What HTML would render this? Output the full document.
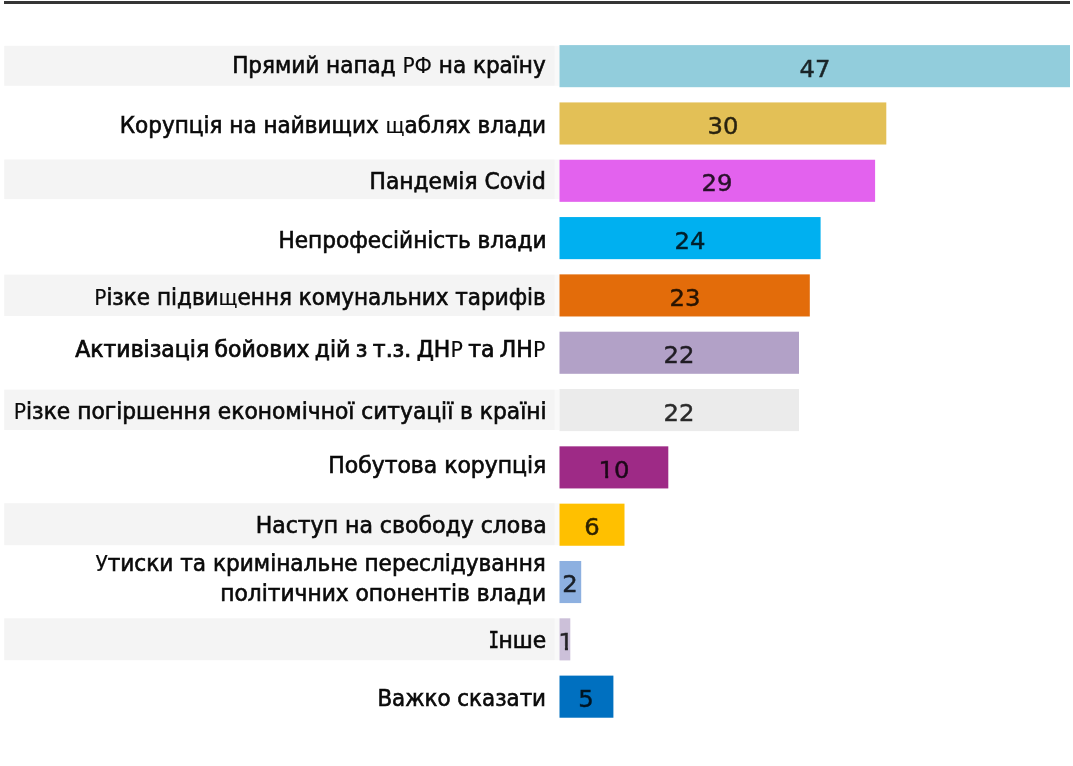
<!DOCTYPE html>
<html lang="uk"><head><meta charset="utf-8"><title>Chart</title><style>
html,body{margin:0;padding:0;background:#fff;}
body{width:1073px;height:766px;position:relative;overflow:hidden;font-family:"DejaVu Sans Condensed","DejaVu Sans","Liberation Sans",sans-serif;}
.g{position:absolute;left:0;top:0;display:block;}
.lb{position:absolute;left:0;white-space:nowrap;text-align:right;font-size:23.3px;line-height:30px;height:30px;color:#0a0a0a;-webkit-text-stroke:0.6px #0a0a0a;transform-origin:100% 50%;}
.lb.hv{-webkit-text-stroke:0.7px #0a0a0a;word-spacing:-1.5px;}
.fb{font-size:21.8px;-webkit-text-stroke:0.15px #0a0a0a;}
.ii{font-family:"DejaVu Sans Mono","Liberation Mono",monospace;display:inline-block;transform:scaleX(0.72);transform-origin:50% 50%;margin:0 -2.6px;-webkit-text-stroke:0.6px #0a0a0a;}
.one{display:inline-block;clip-path:polygon(0 0,100% 0,100% 64%,62.5% 64%,62.5% 100%,43% 100%,43% 64%,0 64%);}
.nv{position:absolute;text-align:center;font-family:"DejaVu Sans","Liberation Sans",sans-serif;font-size:22.2px;line-height:30px;height:30px;color:#000;-webkit-text-stroke:0.45px #000;opacity:0.82;white-space:nowrap;transform:scaleX(1.095);}
</style></head><body>
<svg class="g" width="1073" height="766" viewBox="0 0 1073 766">
<rect x="4" y="1" width="1066" height="3" fill="#353535"/>
<rect x="4.2" y="45.8" width="550.6" height="40.0" fill="#F4F4F4"/>
<rect x="554.8" y="45.8" width="4.7" height="40.0" fill="#F9F9F9"/>
<rect x="4.2" y="159.5" width="550.6" height="39.6" fill="#F4F4F4"/>
<rect x="554.8" y="159.5" width="4.7" height="39.6" fill="#F9F9F9"/>
<rect x="4.2" y="274.6" width="550.6" height="41.4" fill="#F4F4F4"/>
<rect x="554.8" y="274.6" width="4.7" height="41.4" fill="#F9F9F9"/>
<rect x="4.2" y="389.6" width="550.6" height="40.4" fill="#F4F4F4"/>
<rect x="554.8" y="389.6" width="4.7" height="40.4" fill="#F9F9F9"/>
<rect x="4.2" y="503.2" width="550.6" height="42.0" fill="#F4F4F4"/>
<rect x="554.8" y="503.2" width="4.7" height="42.0" fill="#F9F9F9"/>
<rect x="4.2" y="618.3" width="550.6" height="41.9" fill="#F4F4F4"/>
<rect x="554.8" y="618.3" width="4.7" height="41.9" fill="#F9F9F9"/>
<rect x="559.5" y="45.10" width="510.5" height="42.1" fill="#92CDDC"/>
<rect x="559.5" y="102.42" width="326.8" height="42.1" fill="#E3C056"/>
<rect x="559.5" y="159.74" width="315.6" height="42.1" fill="#E362EE"/>
<rect x="559.5" y="217.06" width="261.1" height="42.1" fill="#00B0F0"/>
<rect x="559.5" y="274.38" width="250.3" height="42.1" fill="#E36C0A"/>
<rect x="559.5" y="331.70" width="239.5" height="42.1" fill="#B2A1C7"/>
<rect x="559.5" y="389.02" width="239.5" height="42.1" fill="#EBEBEB"/>
<rect x="559.5" y="446.34" width="108.8" height="42.1" fill="#9E2A86"/>
<rect x="559.5" y="503.66" width="65.0" height="42.1" fill="#FFC000"/>
<rect x="559.5" y="560.98" width="21.7" height="42.1" fill="#8DB0E0"/>
<rect x="559.5" y="618.30" width="10.8" height="42.1" fill="#CCC0D9"/>
<rect x="559.5" y="675.62" width="53.9" height="42.1" fill="#0070C0"/>
</svg>
<div class="lb " id="lb0" style="top:50px;width:545.65px;transform:translateY(0.35px) scaleX(1.0279)">Прямий напад <span class="fb">РФ</span> на країну</div>
<div class="lb " id="lb1" style="top:109px;width:546.15px;transform:translateY(0.65px) scaleX(1.0293)">Корупція на найвищих <span class="fb">щ</span>аблях влади</div>
<div class="lb " id="lb2" style="top:165px;width:545.75px;transform:translateY(0.65px) scaleX(1.0392)">Пандемія Covid</div>
<div class="lb " id="lb3" style="top:225px;width:546.55px;transform:translateY(0.25px) scaleX(1.0342)">Непрофесійність влади</div>
<div class="lb " id="lb4" style="top:281px;width:545.80px;transform:translateY(0.70px) scaleX(1.0274)"><span class="fb">Р</span>ізке підви<span class="fb">щ</span>ення комунальних тарифів</div>
<div class="lb hv" id="lb5" style="top:334px;width:545.30px;transform:translateY(0.25px) scaleX(1.0481)">Активізація бойових дій з т.з. ДН<span class="fb">Р</span> та ЛН<span class="fb">Р</span></div>
<div class="lb " id="lb6" style="top:395px;width:546.55px;transform:translateY(0.60px) scaleX(1.0392)"><span class="fb">Р</span>ізке погіршення економічної ситуації в країні</div>
<div class="lb " id="lb7" style="top:450px;width:546.30px;transform:translateY(0.45px) scaleX(1.0464)">Побутова корупція</div>
<div class="lb " id="lb8" style="top:509px;width:546.75px;transform:translateY(0.55px) scaleX(1.0500)">Наступ на свободу слова</div>
<div class="lb " id="lb9" style="top:547px;width:545.80px;transform:translateY(0.70px) scaleX(1.0321)"><span class="fb">У</span>тиски та кримінальне переслідування</div>
<div class="lb " id="lb10" style="top:577px;width:546.05px;transform:translateY(0.85px) scaleX(1.0386)">політичних опонентів влади</div>
<div class="lb " id="lb11" style="top:625px;width:546.20px;transform:translateY(0.35px) scaleX(1.0428)"><span class="ii">І</span>нше</div>
<div class="lb " id="lb12" style="top:682px;width:546.05px;transform:translateY(0.55px) scaleX(1.0216)">Важко сказати</div>
<div class="nv" id="nv0" style="left:784.75px;width:60px;top:53.60px">47</div>
<div class="nv" id="nv1" style="left:692.90px;width:60px;top:110.92px">30</div>
<div class="nv" id="nv2" style="left:687.30px;width:60px;top:168.24px">29</div>
<div class="nv" id="nv3" style="left:660.05px;width:60px;top:225.56px">24</div>
<div class="nv" id="nv4" style="left:654.65px;width:60px;top:282.88px">23</div>
<div class="nv" id="nv5" style="left:649.25px;width:60px;top:340.20px">22</div>
<div class="nv" id="nv6" style="left:649.25px;width:60px;top:397.52px">22</div>
<div class="nv" id="nv7" style="left:583.90px;width:60px;top:454.84px"><span class="one">1</span>0</div>
<div class="nv" id="nv8" style="left:562.00px;width:60px;top:512.16px">6</div>
<div class="nv" id="nv9" style="left:540.35px;width:60px;top:569.48px">2</div>
<div class="nv" id="nv10" style="left:535.70px;width:60px;top:626.80px"><span class="one">1</span></div>
<div class="nv" id="nv11" style="left:556.45px;width:60px;top:684.12px">5</div>
</body></html>
